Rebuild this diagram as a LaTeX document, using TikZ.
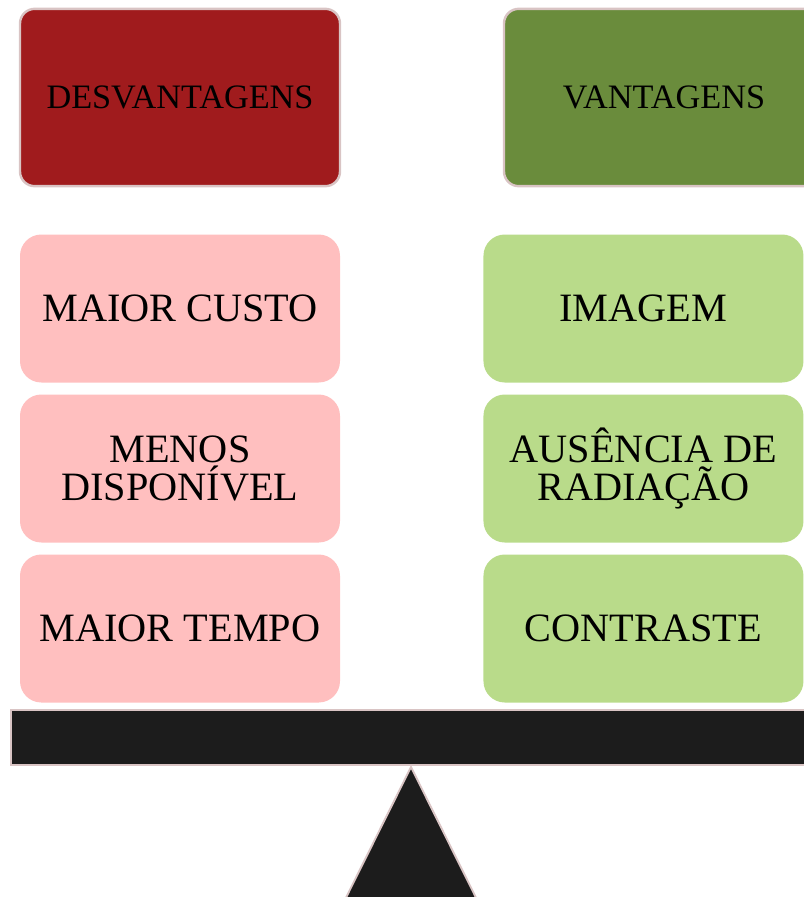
\documentclass[tikz,border=0pt]{standalone}
\usepackage{fontspec}
\setmainfont{Liberation Serif}
\usetikzlibrary{positioning}

\definecolor{darkred}{HTML}{A01B1D}
\definecolor{darkgreen}{HTML}{6A8C3C}
\definecolor{lightred}{HTML}{FFBFBF}
\definecolor{lightgreen}{HTML}{B9DB8A}
\definecolor{edgegray}{HTML}{D9C4C4}
\definecolor{nearblack}{HTML}{1C1C1C}

\tikzset{
  title/.style={draw=edgegray, line width=1.8pt, rounded corners=11pt,
    minimum width=240pt, minimum height=133pt, inner sep=0pt,
    font=\fontsize{25.7}{27}\selectfont},
  item/.style={rounded corners=16pt, minimum width=240pt, minimum height=111pt,
    inner sep=0pt, align=center, font=\fontsize{30.2}{29}\selectfont},
  con/.style={item, fill=lightred},
  pro/.style={item, fill=lightgreen},
}

\begin{document}
\begin{tikzpicture}[x=0.75pt,y=-0.75pt,node distance=120pt,on grid]
	\useasboundingbox (0,0) rectangle (804,897);
	\clip (0,0) rectangle (804,897);
	% titles
	\node[title,fill=darkred] (cons) at (180,97.5) {DESVANTAGENS};
	\node[title,fill=darkgreen] (pros) at (664,97.5) {VANTAGENS};
	% items
	\node[con] (c1) at (180,308.5) {MAIOR CUSTO};
	\node[con] (c2) [below=of c1] {MENOS\\DISPONÍVEL};
	\node[con] (c3) [below=of c2] {MAIOR TEMPO};
	\node[pro] (p1) [right=347.6pt of c1] {IMAGEM};
	\node[pro] (p2) [below=of p1] {AUSÊNCIA DE\\RADIAÇÃO};
	\node[pro] (p3) [below=of p2] {CONTRASTE};
	% balance
	\filldraw[draw=edgegray,fill=nearblack,line width=1.4pt] (11,710) rectangle (830,765);
	\filldraw[draw=edgegray,fill=nearblack,line width=1.4pt] (411,767) -- (315,960) -- (507,960) -- cycle;
\end{tikzpicture}
\end{document}
